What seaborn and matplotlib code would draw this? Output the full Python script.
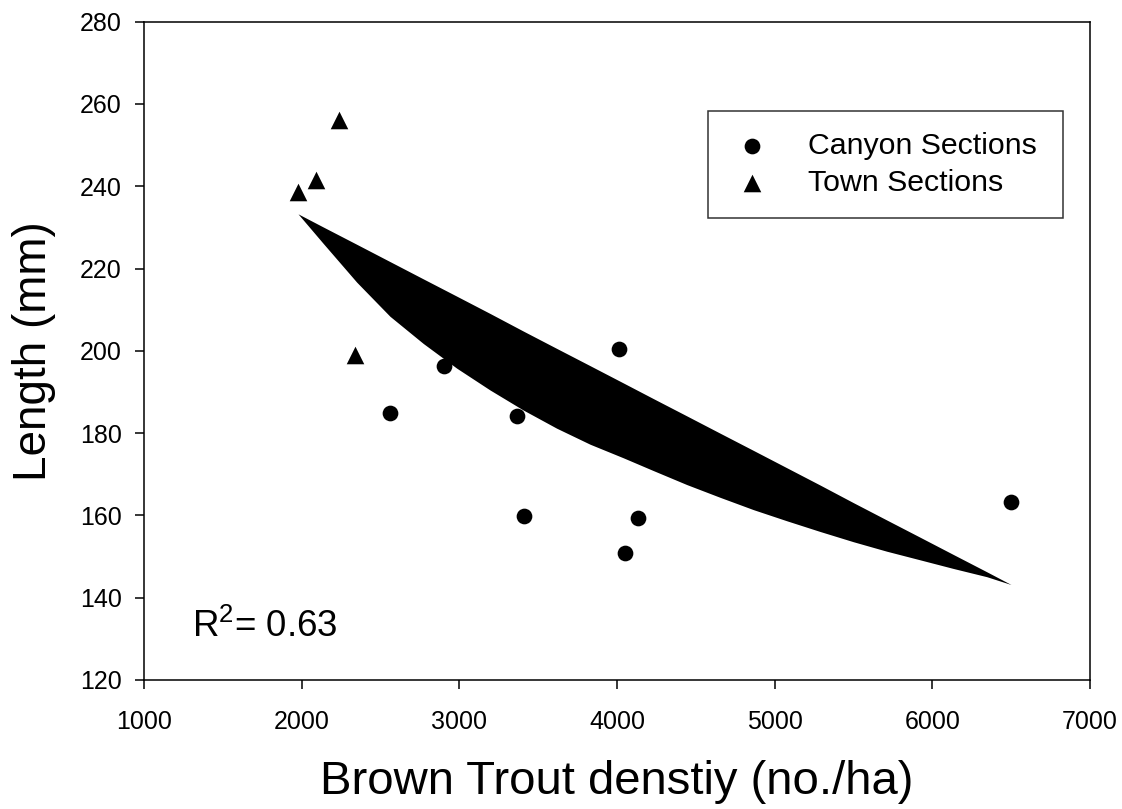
import matplotlib
matplotlib.use("Agg")
import matplotlib.pyplot as plt
import seaborn as sns

# ---- data ----
canyon_density = [2560, 2905, 3364, 3408, 4011, 4053, 4131, 6499]
canyon_length = [184.8, 196.4, 184.1, 159.9, 200.4, 150.8, 159.4, 163.3]

town_density = [1977, 2089, 2235, 2336]
town_length = [238.6, 241.6, 256.2, 198.9]

band_density = [1977, 2137, 2349, 2560, 2771, 2983, 3194, 3406, 3617, 3829, 4040, 4230,
                4442, 4653, 4865, 5076, 5287, 5499, 5710, 5922, 6133, 6345, 6499]
band_upper = [233.3, 230.1, 225.9, 221.7, 217.5, 213.3, 209.1, 204.8, 200.6, 196.4, 192.2, 188.4,
              184.2, 180.0, 175.8, 171.6, 167.4, 163.1, 158.9, 154.7, 150.5, 146.3, 143.2]
band_lower = [233.3, 226.1, 216.7, 208.4, 201.8, 195.8, 190.5, 185.6, 181.2, 177.3, 174.0, 170.9,
              167.5, 164.4, 161.4, 158.7, 156.1, 153.6, 151.3, 149.2, 147.1, 145.1, 143.2]

x_ticks = [1000, 2000, 3000, 4000, 5000, 6000, 7000]
y_ticks = [120, 140, 160, 180, 200, 220, 240, 260, 280]
r2_text = r"R$^{\mathrm{2}}$= 0.63"

sns.set_style("white")
plt.rcParams["font.family"] = ["Liberation Sans", "DejaVu Sans"]
plt.rcParams["mathtext.fontset"] = "custom"
plt.rcParams["mathtext.rm"] = "Liberation Sans"
plt.rcParams["mathtext.it"] = "Liberation Sans:italic"
plt.rcParams["mathtext.bf"] = "Liberation Sans:bold"
plt.rcParams["text.color"] = "black"
plt.rcParams["axes.labelcolor"] = "black"
plt.rcParams["xtick.color"] = "black"
plt.rcParams["ytick.color"] = "black"

fig = plt.figure(figsize=(11.22, 8.09), dpi=100)
ax = fig.add_axes([0.1283, 0.1595, 0.9715 - 0.1283, 0.9732 - 0.1595])

ax.fill_between(band_density, band_lower, band_upper, color="black", linewidth=0, zorder=2)

sns.scatterplot(x=canyon_density, y=canyon_length, marker="o", s=128, color="black",
                linewidth=0, label="Canyon Sections", ax=ax, zorder=3)
sns.scatterplot(x=town_density, y=town_length, marker="^", s=160, color="black",
                linewidth=0, label="Town Sections", ax=ax, zorder=3)

ax.set_xlim(1000, 7000)
ax.set_ylim(120, 280)
ax.set_xticks(x_ticks)
ax.set_yticks(y_ticks)
ax.tick_params(axis="both", which="major", direction="out", length=6.5, width=1.1,
               labelsize=18, colors="black", bottom=True, left=True, top=False, right=False)
ax.tick_params(axis="y", pad=9.5)
ax.tick_params(axis="x", pad=15)
for sp in ax.spines.values():
    sp.set_visible(True)
    sp.set_linewidth(1.1)
    sp.set_color("black")

ax.set_xlabel("Brown Trout denstiy (no./ha)", fontsize=34, labelpad=19)
ax.set_ylabel("Length (mm)", fontsize=33, labelpad=17)

ax.text(1304, 130.5, r2_text, fontsize=26.5, ha="left", va="baseline")

handles, labels = ax.get_legend_handles_labels()
leg = ax.legend(handles, labels, loc="upper left",
                bbox_to_anchor=(0.5962, 0.6, 0.9711 - 0.5962, 0.8648 - 0.6),
                mode="expand", borderaxespad=0, fontsize=21.8, frameon=True,
                fancybox=False, shadow=False, borderpad=0.7, labelspacing=0.29,
                handlelength=1.5, handletextpad=1.1, markerscale=1.0)
leg.get_frame().set_edgecolor("black")
leg.get_frame().set_linewidth(1.1)

fig.savefig("out.png", dpi=100)
